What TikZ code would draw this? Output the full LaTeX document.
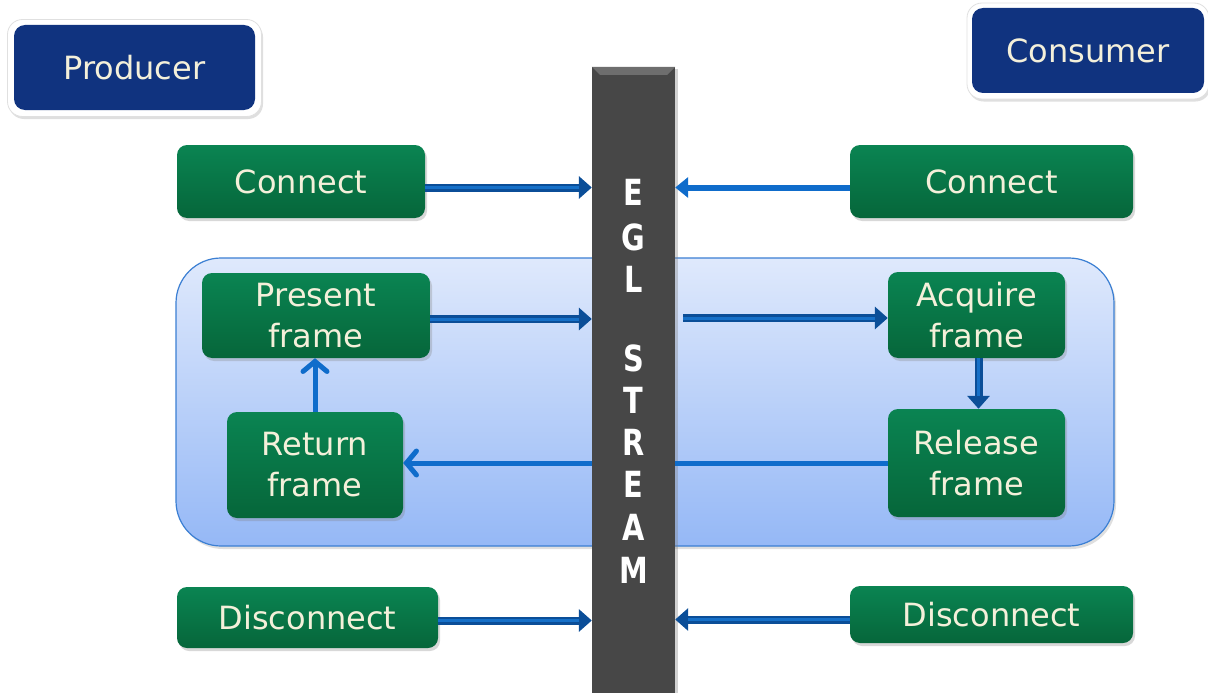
\documentclass[tikz,border=0pt]{standalone}
\usepackage{fontspec}
\setmainfont{DejaVu Sans}
\usetikzlibrary{arrows.meta,shadows,calc}
\definecolor{navy}{HTML}{10337F}
\definecolor{cream}{HTML}{F4F0DA}
\definecolor{greentop}{HTML}{0A8452}
\definecolor{greenbot}{HTML}{06663A}
\definecolor{regiontop}{HTML}{DFE9FC}
\definecolor{regionbot}{HTML}{95B8F6}
\definecolor{regionline}{HTML}{3B7FD3}
\definecolor{arrdark}{HTML}{0B4E98}
\definecolor{arrmid}{HTML}{1670C8}
\definecolor{arrlight}{HTML}{0F6CCB}
\definecolor{barfill}{HTML}{474747}
\definecolor{barlight}{HTML}{6E6E6E}
\begin{document}
\begin{tikzpicture}[x=1pt,y=-1pt,
  roleframe/.style={fill=white, draw=black!12, line width=0.8pt, rounded corners=15pt, inner sep=0pt,
    drop shadow={shadow xshift=1.5pt,shadow yshift=-2.5pt,opacity=0.25}},
  role/.style={fill=navy, draw=none, rounded corners=11pt, text=cream,
    font=\fontsize{32}{41}\selectfont, inner sep=0pt},
  stepbox/.style={rounded corners=10pt, top color=greentop, bottom color=greenbot, draw=none,
    text=cream, font=\fontsize{32}{41}\selectfont, align=center, inner sep=0pt,
    drop shadow={shadow xshift=2pt,shadow yshift=-3pt,opacity=0.3}},
  region/.style={rounded corners=45pt, draw=regionline, line width=1.2pt, top color=regiontop,
    bottom color=regionbot, inner sep=0pt,
    drop shadow={shadow xshift=2pt,shadow yshift=-3pt,opacity=0.25}},
  streambar/.style={fill=barfill, draw=none, inner sep=0pt,
    drop shadow={shadow xshift=3pt,shadow yshift=-2pt,opacity=0.35}},
  letter/.style={text=white, font=\fontsize{36}{36}\selectfont\bfseries, inner sep=0pt},
  fat/.style={line width=8pt, draw=arrdark, -{Triangle[length=13pt,width=22pt]},
    postaction={draw=arrmid, line width=3pt, -, shorten >=13pt}},
  plainarr/.style={line width=6pt, draw=arrlight, -{Triangle[length=13pt,width=20pt]}},
  openline/.style={line width=5pt, draw=arrlight},
  openarr/.style={line width=5pt, draw=arrlight, -{Straight Barb[length=10pt,width=24pt,line cap=round]}}
]
\useasboundingbox (0,0) rectangle (1208,693);
\fill[white] (0,0) rectangle (1208,693);

% region
\node[region, minimum width=938pt, minimum height=288pt] (reg) at (645,402) {};

% role boxes
\node[roleframe, minimum width=254pt, minimum height=97pt] (prodf) at (134.5,68) {};
\node[role, minimum width=241pt, minimum height=85pt] (prod) at (134.5,67.5) {Producer};
\node[roleframe, minimum width=242pt, minimum height=96pt] (consf) at (1088,51) {};
\node[role, minimum width=232pt, minimum height=85pt] (cons) at (1088,50.5) {Consumer};

% step boxes
\node[stepbox, minimum width=248pt, minimum height=73pt] (cl) at (301,181.5) {Connect};
\node[stepbox, minimum width=283pt, minimum height=73pt] (cr) at (991.5,181.5) {Connect};
\node[stepbox, minimum width=228pt, minimum height=85pt] (pf) at (316,315.5) {Present\\frame};
\node[stepbox, minimum width=176pt, minimum height=106pt] (rt) at (315,465) {Return\\frame};
\node[stepbox, minimum width=177pt, minimum height=86pt] (af) at (976.5,315) {Acquire\\frame};
\node[stepbox, minimum width=177pt, minimum height=108pt] (rf) at (976.5,463) {Release\\frame};
\node[stepbox, minimum width=261pt, minimum height=61pt] (dl) at (307.5,617.5) {Disconnect};
\node[stepbox, minimum width=283pt, minimum height=57pt] (dr) at (991.5,614.5) {Disconnect};

% stream bar
\node[streambar, minimum width=83pt, minimum height=646pt] (bar) at (633.5,390) {};
\fill[barlight] (bar.north west) -- (bar.north east) -- ++(-8,8) -- ($(bar.north west)+(8,8)$) -- cycle;
\foreach \l/\yy [count=\i] in {E/205,G/250,L/292,S/371,T/413,R/455,E/497,A/540,M/583}
  \node[letter, anchor=base] (lt\i) at (633.5,\yy) {\scalebox{0.8}[1]{\l}};

% connectors
\draw[fat] ([yshift=-6pt]cl.east) -- ([yshift=-6pt]cl.east -| bar.west);
\draw[plainarr] ([yshift=-6pt]cr.west) -- ([yshift=-6pt]cr.west -| bar.east);
\draw[fat] ([yshift=-3.5pt]pf.east) -- ([yshift=-3.5pt]pf.east -| bar.west);
\draw[fat] ($([yshift=-3pt]af.west -| bar.east)+(8,0)$) -- ([yshift=-3pt]af.west);
\draw[fat] ([xshift=2pt]af.south) -- ([xshift=2pt]rf.north);
\draw[openline] (rf.west) -- (rf.west -| bar.east);
\draw[openarr] (rf.west -| bar.west) -- (rf.west -| rt.east);
\draw[openarr] (rt.north) -- (rt.north |- pf.south);
\draw[fat] ([yshift=-3pt]dl.east) -- ([yshift=-3pt]dl.east -| bar.west);
\draw[fat] ([yshift=-5pt]dr.west) -- ([yshift=-5pt]dr.west -| bar.east);
\end{tikzpicture}
\end{document}
